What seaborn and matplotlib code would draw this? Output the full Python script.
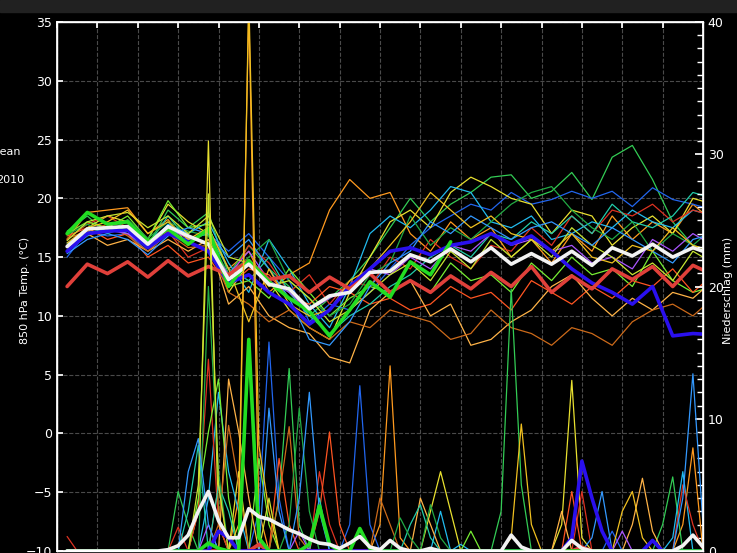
import numpy as np
import pandas as pd
import matplotlib
matplotlib.use("Agg")
import matplotlib.pyplot as plt
from matplotlib.ticker import MultipleLocator
import seaborn as sns

# time axis (days), temperature every 12 h, precipitation every 6 h
t_temp = np.arange(0.25, 16.5, 0.5)
t_rain = np.arange(0.25, 16.01, 0.25)

member_colors = ['#ff9a1f', '#33cc55', '#2266ee', '#e8e030', '#22bbee', '#dd3322',
                 '#77ee33', '#ff5522', '#ffb347', '#22ccaa', '#cc6a1a', '#22aa44',
                 '#aa55ff', '#c8e632', '#3399ff', '#f0c020']

temp_members = [
    [16.5, 18.8, 19.0, 19.2, 17.0, 18.2, 16.0, 17.5, 14.0, 15.5, 12.0, 13.5, 14.5, 19.0, 21.6, 20.0, 20.5,
     17.0, 15.5, 18.0, 16.5, 17.5, 15.0, 16.5, 14.5, 17.0, 15.5, 18.5, 16.5, 18.0, 17.0, 19.5, 18.0],
    [17.2, 18.5, 17.0, 17.6, 16.0, 19.0, 17.5, 18.8, 13.5, 16.0, 14.0, 12.5, 10.0, 11.5, 13.0, 15.0, 17.5,
     20.0, 18.0, 19.5, 20.5, 21.8, 22.0, 20.0, 20.6, 22.2, 19.9, 23.5, 24.5, 21.6, 18.0, 16.0, 15.5],
    [15.0, 17.2, 16.8, 17.0, 15.5, 17.0, 16.5, 17.0, 15.5, 17.0, 15.0, 13.0, 9.5, 11.0, 10.5, 12.0, 14.0,
     16.0, 17.5, 18.5, 19.5, 19.0, 20.5, 19.5, 19.9, 20.6, 20.0, 20.6, 19.3, 20.9, 19.9, 19.5, 19.0],
    [16.0, 17.5, 18.5, 18.0, 16.5, 19.5, 18.0, 17.0, 12.0, 14.5, 13.0, 10.5, 9.0, 8.0, 12.0, 15.0, 18.0,
     19.0, 17.5, 20.5, 21.8, 21.0, 20.0, 19.5, 17.0, 19.0, 18.5, 16.0, 17.5, 18.5, 17.0, 20.0, 19.5],
    [15.5, 16.8, 17.5, 17.0, 16.0, 17.8, 17.0, 18.0, 14.5, 12.0, 16.5, 14.0, 11.0, 9.0, 12.5, 17.0, 18.5,
     17.5, 19.0, 21.0, 20.5, 18.0, 17.5, 18.5, 16.5, 17.0, 18.0, 17.5, 19.0, 18.0, 17.5, 19.0, 18.5],
    [16.5, 17.8, 18.5, 17.5, 16.2, 17.2, 15.0, 15.8, 13.0, 16.0, 14.5, 12.0, 13.5, 11.0, 13.0, 12.5, 15.0,
     14.0, 16.5, 15.0, 14.0, 16.0, 15.5, 17.5, 16.0, 18.5, 17.0, 19.0, 18.5, 19.5, 18.0, 19.0, 18.5],
    [17.0, 18.0, 17.5, 18.5, 16.5, 19.8, 17.5, 17.8, 12.5, 13.0, 11.5, 14.0, 12.0, 10.0, 11.5, 12.5, 12.0,
     13.0, 12.0, 14.5, 13.0, 13.5, 12.0, 14.5, 13.0, 15.0, 13.5, 14.0, 12.5, 15.5, 13.0, 12.0, 12.5],
    [16.8, 17.5, 16.5, 17.0, 15.0, 16.0, 14.5, 15.0, 12.5, 14.0, 13.5, 11.5, 11.0, 12.5, 12.0, 11.0, 11.5,
     10.5, 11.0, 12.5, 11.5, 12.0, 10.5, 13.0, 12.0, 11.0, 12.5, 11.5, 13.0, 12.5, 14.0, 12.0, 13.5],
    [16.0, 17.0, 16.0, 16.5, 15.5, 16.5, 15.5, 16.5, 11.0, 12.5, 10.0, 9.0, 8.5, 6.5, 6.0, 10.5, 12.0,
     13.0, 10.0, 11.0, 7.5, 8.0, 9.5, 10.5, 12.5, 13.5, 11.5, 10.0, 11.5, 10.5, 12.0, 11.5, 13.0],
    [16.2, 17.0, 17.5, 17.2, 16.0, 18.5, 16.5, 17.0, 14.0, 13.0, 15.0, 12.0, 10.0, 8.5, 10.0, 11.0, 12.5,
     13.5, 15.0, 16.0, 15.0, 17.0, 16.5, 18.0, 17.0, 18.5, 17.0, 19.5, 18.0, 17.5, 18.5, 20.5, 20.0],
    [16.6, 17.2, 17.8, 16.8, 15.5, 17.0, 15.8, 16.0, 12.0, 11.0, 9.5, 10.5, 9.0, 8.0, 9.5, 9.0, 10.5,
     10.0, 9.5, 8.0, 8.5, 10.5, 9.0, 8.5, 7.5, 9.0, 8.5, 7.5, 9.5, 10.5, 11.0, 10.0, 11.5],
    [16.9, 17.8, 17.0, 18.2, 16.6, 18.0, 17.2, 16.8, 13.5, 15.0, 16.5, 13.0, 11.5, 10.0, 11.0, 13.5, 14.5,
     18.5, 16.0, 17.5, 16.5, 18.0, 19.5, 20.5, 21.0, 19.0, 17.5, 16.5, 18.0, 15.5, 17.0, 16.0, 17.5],
    [15.8, 17.0, 17.3, 17.0, 15.8, 17.4, 16.6, 16.2, 13.5, 15.5, 13.0, 12.0, 10.5, 11.5, 12.5, 14.0, 13.5,
     15.0, 14.0, 16.0, 15.5, 17.0, 16.0, 16.5, 15.5, 16.0, 14.5, 15.0, 14.0, 16.5, 15.5, 17.0, 16.0],
    [16.4, 18.0, 18.5, 18.8, 17.5, 18.5, 17.0, 18.5, 15.0, 14.5, 12.5, 13.0, 11.5, 9.5, 10.5, 12.0, 13.5,
     14.5, 13.0, 15.5, 14.0, 16.5, 15.0, 16.5, 15.0, 17.5, 16.0, 15.0, 13.5, 14.5, 13.0, 15.5, 14.5],
    [15.3, 16.5, 17.0, 16.5, 15.2, 16.8, 17.5, 17.0, 15.0, 16.5, 14.0, 11.5, 8.0, 7.5, 9.5, 12.5, 14.5,
     15.5, 18.0, 17.0, 18.5, 17.5, 16.5, 17.5, 18.0, 17.0, 16.0, 17.5, 16.5, 15.5, 14.5, 16.5, 17.0],
    [16.2, 17.5, 18.0, 19.0, 17.0, 18.0, 16.5, 17.5, 14.0, 9.5, 14.0, 11.0, 10.0, 10.5, 13.0, 14.0, 16.0,
     18.0, 20.5, 19.0, 17.5, 18.5, 17.0, 16.5, 15.5, 17.0, 15.0, 14.5, 16.0, 15.5, 17.5, 16.0, 15.5],
]

# thick lines: ensemble mean, control, deterministic run, second run
temp_mean = [15.9, 17.4, 17.5, 17.6, 16.1, 17.6, 16.8, 16.1, 13.1, 14.4, 12.7, 12.3, 10.6, 11.7, 12.0, 13.7, 13.8,
             15.2, 14.6, 15.7, 14.6, 15.8, 14.4, 15.3, 14.4, 15.5, 14.3, 15.8, 15.1, 16.1, 15.0, 15.8, 15.2]
temp_control = [12.5, 14.4, 13.6, 14.6, 13.3, 14.7, 13.4, 14.2, 13.5, 14.7, 13.1, 13.4, 12.0, 13.3, 12.3, 13.6, 12.0,
                13.0, 12.0, 13.4, 12.3, 13.7, 12.5, 14.2, 12.0, 13.4, 12.3, 14.0, 13.1, 14.2, 12.5, 14.3, 13.5]
temp_det = [17.0, 18.8, 17.8, 18.0, 16.3, 17.4, 16.1, 17.4, 12.5, 14.7, 12.9, 11.5, 10.4, 8.3, 10.5, 12.9, 11.6,
            14.6, 13.5, 16.3] + [np.nan] * 13
temp_blue = [15.5, 17.0, 17.2, 17.3, 15.8, 17.0, 16.3, 15.5, 12.8, 13.5, 12.0, 11.0, 9.3, 10.5, 12.5, 14.0, 15.5,
             15.8, 15.2, 16.0, 16.3, 17.0, 16.1, 16.8, 15.5, 14.0, 12.8, 12.0, 11.0, 12.5, 8.3, 8.5, 8.4]

# precipitation, only non-zero 6-hourly values {day: mm}
rain_members = [
    {4.5: 4, 4.75: 41, 5.0: 3, 8.0: 2, 8.25: 14, 8.5: 1, 15.5: 2, 15.75: 7.8},
    {3.0: 4.5, 3.25: 2, 5.5: 4, 5.75: 13.8, 6.0: 2, 11.0: 3, 11.25: 19.8, 11.5: 5, 15.0: 2, 15.25: 5.6},
    {5.0: 3, 5.25: 15.8, 5.5: 4, 7.25: 2, 7.5: 12.5, 7.75: 2, 13.75: 1.5},
    {3.5: 3, 3.75: 31, 4.0: 2, 4.5: 6, 9.25: 3, 9.5: 6, 9.75: 3, 12.5: 2, 12.75: 12.9, 13.0: 1},
    {3.75: 4, 4.0: 12, 4.25: 6, 4.5: 3, 9.5: 3, 10.0: 0.5, 15.25: 1, 15.5: 6},
    {0.25: 1.1, 3.0: 1.8, 3.5: 3, 3.75: 14.5, 4.0: 2, 6.5: 6, 6.75: 2, 13.0: 4.5, 15.5: 5, 15.75: 2},
    {3.5: 4, 3.75: 9, 4.0: 13, 4.25: 4, 5.0: 7, 5.25: 2, 10.25: 1.5},
    {4.0: 5, 5.5: 7, 5.75: 2, 6.5: 3, 6.75: 9, 7.0: 2, 12.75: 4.5},
    {4.25: 13, 4.5: 9, 4.75: 4, 9.0: 4, 9.25: 2, 12.5: 3, 14.25: 2, 14.5: 5.5, 14.75: 1.5},
    {3.25: 3, 3.5: 8, 4.0: 5, 4.25: 3, 6.5: 4, 8.75: 2, 9.0: 3.5, 9.25: 1},
    {4.0: 2, 4.25: 9.5, 4.5: 5, 5.5: 4, 5.75: 9.4, 6.0: 1, 8.0: 4, 8.25: 2},
    {3.75: 20, 4.0: 6, 5.75: 2, 6.0: 10.8, 6.25: 3, 8.5: 2.5, 8.75: 1, 9.25: 3.5, 9.5: 1},
    {3.75: 2, 6.0: 1.5, 14.0: 1.5},
    {3.5: 5, 3.75: 27, 4.0: 5, 5.25: 4},
    {3.25: 6, 3.5: 8.5, 3.75: 2, 5.25: 10.8, 5.5: 3, 6.0: 4, 6.25: 12, 6.5: 3, 13.25: 1, 13.5: 4.5,
     15.5: 4, 15.75: 13.4, 16.0: 2},
    {4.5: 2, 4.75: 42, 5.0: 8, 5.25: 3, 11.25: 1, 11.5: 9.6, 11.75: 2, 14.0: 3, 14.25: 4.5, 14.5: 1},
]
rain_mean = {2.75: 0.1, 3.0: 0.4, 3.25: 1.2, 3.5: 3.0, 3.75: 4.5, 4.0: 2.3, 4.25: 1.0, 4.5: 1.0, 4.75: 3.2,
             5.0: 2.6, 5.25: 2.4, 5.5: 2.0, 5.75: 1.6, 6.0: 1.3, 6.25: 0.9, 6.5: 0.6, 6.75: 0.5, 7.0: 0.2,
             7.25: 0.6, 7.5: 1.1, 7.75: 0.3, 8.0: 0.1, 8.25: 0.8, 8.5: 0.2, 9.25: 0.2, 11.25: 1.2, 11.5: 0.3,
             12.75: 0.8, 13.0: 0.2, 15.5: 0.4, 15.75: 1.2, 16.0: 0.3}
rain_det = {3.75: 0.6, 4.0: 0.2, 4.75: 16, 5.0: 1.0, 6.25: 0.5, 6.5: 3.4, 6.75: 0.5, 7.5: 1.7, 7.75: 0.2}
rain_blue = {4.0: 1.5, 4.25: 1.0, 12.75: 1.0, 13.0: 6.8, 13.25: 4.0, 13.5: 1.5, 14.75: 0.8}
rain_control = {5.0: 0.5, 13.0: 0.3}


def rain_series(events):
    vals = pd.Series(0.0, index=np.round(t_rain, 2))
    for day, mm in events.items():
        vals[round(day, 2)] = mm
    return vals.values


sns.set_theme(style="dark", rc={"axes.facecolor": "black", "figure.facecolor": "black",
                                "axes.edgecolor": "white", "text.color": "white",
                                "xtick.color": "white", "ytick.color": "white"})
plt.rcParams['font.family'] = ['DejaVu Sans']

fig = plt.figure(figsize=(7.37, 5.53), dpi=100)
ax = fig.add_axes([57 / 737, 2 / 553, 646 / 737, 529 / 553])
fig.patches.append(plt.Rectangle((0, 1 - 12 / 553), 1, 12 / 553, transform=fig.transFigure,
                                 color='#212121', zorder=0))

for vals, col in zip(temp_members, member_colors):
    sns.lineplot(x=t_temp, y=vals, ax=ax, color=col, linewidth=0.9)
sns.lineplot(x=t_temp, y=temp_blue, ax=ax, color='#2a10ee', linewidth=2.6)
sns.lineplot(x=t_temp, y=temp_control, ax=ax, color='#e0403a', linewidth=2.6)
sns.lineplot(x=t_temp, y=temp_det, ax=ax, color='#22dd22', linewidth=2.6)
sns.lineplot(x=t_temp, y=temp_mean, ax=ax, color='#f2f2f2', linewidth=2.6)

ax.set_xlim(0, 16)
ax.set_ylim(-10, 35)
ax.set_xticks(range(0, 17))
ax.set_yticks(range(-10, 36, 5))
ax.grid(True, color='#4a4a4a', linestyle='--', linewidth=0.8)
ax.tick_params(axis='both', direction='in', length=4, labelsize=9, top=True,
               labelbottom=False, colors='white')
for sp in ax.spines.values():
    sp.set_color('white')
    sp.set_linewidth(1)

ax2 = ax.twinx()
for events, col in zip(rain_members, member_colors):
    sns.lineplot(x=t_rain, y=rain_series(events), ax=ax2, color=col, linewidth=0.9)
sns.lineplot(x=t_rain, y=rain_series(rain_control), ax=ax2, color='#e0403a', linewidth=2.6)
sns.lineplot(x=t_rain, y=rain_series(rain_blue), ax=ax2, color='#2a10ee', linewidth=2.6)
sns.lineplot(x=t_rain, y=rain_series(rain_det), ax=ax2, color='#22dd22', linewidth=2.6)
sns.lineplot(x=t_rain, y=rain_series(rain_mean), ax=ax2, color='#f2f2f2', linewidth=2.6)
ax2.set_ylim(0, 40)
ax2.set_yticks([0, 10, 20, 30, 40])
ax2.yaxis.set_minor_locator(MultipleLocator(1))
ax2.tick_params(axis='y', which='both', direction='in', labelsize=9, colors='white')
ax2.tick_params(axis='y', which='major', length=6)
ax2.tick_params(axis='y', which='minor', length=4, left=False)
ax2.grid(False)
ax2.set_xlim(0, 16)
for sp in ax2.spines.values():
    sp.set_color('white')

fig.text(25 / 737, 1 - 290 / 553, "850 hPa Temp. (°C)", rotation=90, ha='center', va='center',
         fontsize=8, color='white')
fig.text(728 / 737, 1 - 290 / 553, "Niederschlag (mm)", rotation=90, ha='center', va='center',
         fontsize=8, color='white')
fig.text(-9 / 737, 1 - 152 / 553, "Mean", ha='left', va='center', fontsize=8, color='white')
fig.text(-4 / 737, 1 - 180 / 553, "2010", ha='left', va='center', fontsize=8, color='white')

fig.savefig("out.png", dpi=100, facecolor='black')
